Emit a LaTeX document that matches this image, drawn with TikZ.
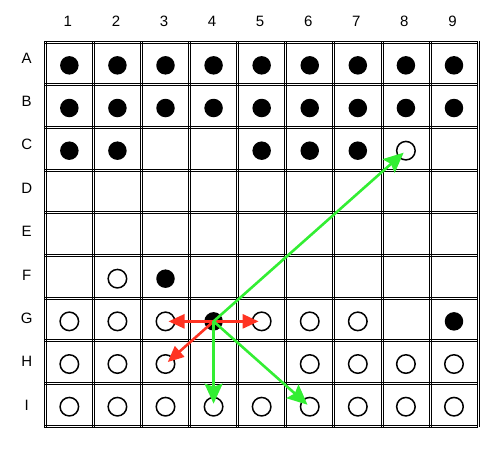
\documentclass[tikz,border=0pt]{standalone}
\usepackage{fontspec}
\setmainfont{Liberation Sans}
\usetikzlibrary{arrows.meta}
\definecolor{arrred}{RGB}{255,51,34}
\definecolor{arrgreen}{RGB}{51,238,51}
\tikzset{
  gridline/.style={line width=0.7pt,black},
  lab/.style={font=\fontsize{15}{18}\selectfont,inner sep=0pt},
  stone/.style={circle,minimum size=18.5pt,inner sep=0pt},
  blackstone/.style={stone,fill=black},
  whitestone/.style={stone,draw=black,line width=1.5pt,fill=white},
  redarrow/.style={arrred,line width=2.6pt,-{Triangle[length=16pt,width=14pt]},shorten >=3pt},
  greenarrow/.style={arrgreen,line width=2.6pt,-{Stealth[length=20pt,width=18pt,inset=3pt]},shorten >=3pt}
}
\begin{document}
\begin{tikzpicture}[x=1pt,y=-1pt]
\useasboundingbox (0,0) rectangle (493,451);
% grid (double lines)
\foreach \k in {0,...,9}{
  \pgfmathsetmacro\xx{45.3+48.08*\k}
  \pgfmathsetmacro\yy{42+42.67*\k}
  \draw[gridline] (\xx-1,41) -- (\xx-1,427);
  \draw[gridline] (\xx+1,41) -- (\xx+1,427);
  \draw[gridline] (44.3,\yy-1) -- (478,\yy-1);
  \draw[gridline] (44.3,\yy+1) -- (478,\yy+1);
}
% column labels
\foreach \c in {1,...,9}{
  \node[lab] (col\c) at ({45.3+48.08*(\c-0.5)-1.5},21) {\c};
}
% row labels
\foreach \r/\l in {1/A,2/B,3/C,4/D,5/E,6/F,7/G,8/H,9/I}{
  \node[lab] (row\l) at (26.7,{58+43.38*(\r-1)}) {\l};
}
% stones
\newcommand{\stone}[4]{% name, col, row, style
  \node[#4] (#1) at ({45.3+48.08*(#2-0.5)},{42+42.67*(#3-0.5)+2}) {};}
\foreach \c in {1,...,9}{\stone{a\c}{\c}{1}{blackstone}}
\foreach \c in {1,...,9}{\stone{b\c}{\c}{2}{blackstone}}
\foreach \c in {1,2,5,6,7}{\stone{c\c}{\c}{3}{blackstone}}
\stone{c8}{8}{3}{whitestone}
\stone{f2}{2}{6}{whitestone}
\stone{f3}{3}{6}{blackstone}
\foreach \c in {1,2,3,5,6,7}{\stone{g\c}{\c}{7}{whitestone}}
\stone{g4}{4}{7}{blackstone}
\stone{g9}{9}{7}{blackstone}
\foreach \c in {1,2,3,6,7,8,9}{\stone{h\c}{\c}{8}{whitestone}}
\foreach \c in {1,...,9}{\stone{i\c}{\c}{9}{whitestone}}
% arrows
\draw[redarrow] (g4.center) -- (g3.center);
\draw[redarrow] (g4.center) -- (g5.center);
\draw[redarrow] (g4.center) -- (h3.center);
\draw[greenarrow] (g4.center) -- (c8.center);
\draw[greenarrow] (g4.center) -- (i4.center);
\draw[greenarrow] (g4.center) -- (i6.center);
\end{tikzpicture}
\end{document}
